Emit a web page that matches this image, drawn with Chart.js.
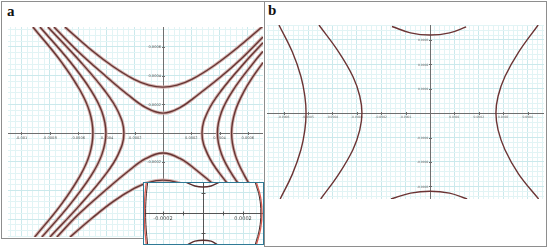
<!DOCTYPE html>
<html>
<head>
<script src="https://cdn.jsdelivr.net/npm/chart.js@4.4.1/dist/chart.umd.min.js"></script>
<style>
body { margin:0; background:#fff; width:550px; height:248px; position:relative; overflow:hidden; }
.panel { position:absolute; border:1px solid #8e8e8e; box-sizing:border-box; }
#pa { left:1px; top:1px; width:264px; height:238px; }
#pb { left:264px; top:1px; width:283px; height:246px; }
.tag { position:absolute; font-family:"Liberation Serif", serif; font-weight:bold; font-size:15px; color:#111; }
.plot { position:absolute; }
#boxA { left:8px; top:27px; }
#boxB { left:267px; top:25px; }
#boxIn { left:143px; top:182px; border:1px solid #2f7a96; background:#fff; }
#boxIn canvas { display:block; }
</style>
</head>
<body>
<div class="panel" id="pa"></div>
<div class="panel" id="pb"></div>
<div class="tag" style="left:7px;top:3px">a</div>
<div class="tag" style="left:268px;top:2px">b</div>
<div class="plot" id="boxA"><canvas id="chartA" width="255" height="210"></canvas></div>
<div class="plot" id="boxB"><canvas id="chartB" width="277" height="174"></canvas></div>
<div class="plot" id="boxIn"><canvas id="chartIn" width="119" height="61"></canvas></div>
<script>
// all curve points are [x, y] in units of 1e-4

// panel a
var aUpperOuter = [[-6.93,7.39],[-5,5.73],[-3.5,4.62],[-2,3.72],[-1,3.34],[0,3.2],[1,3.34],[2,3.72],[3.5,4.62],[5,5.73],[7.07,7.45]];
var aUpperInner = [[-7.7,7.39],[-6,5.69],[-4,3.93],[-2.5,2.69],[-1.2,1.77],[0,1.39],[1.2,1.77],[2.5,2.69],[4,3.85],[5.5,5.15],[7.07,6.7]];
var aLowerInner = [[-7.5,-7.25],[-6,-5.69],[-4,-3.93],[-2.5,-2.69],[-1.2,-1.77],[0,-1.39],[1.2,-1.77],[2.5,-2.69],[4,-3.93],[6,-5.69],[7.07,-6.6]];
var aLowerOuter = [[-6.57,-7.25],[-5,-5.92],[-3.5,-4.76],[-2,-3.84],[-1,-3.43],[0,-3.28],[1,-3.43],[2,-3.84],[3.5,-4.76],[5,-5.92],[6.57,-7.25]];
var aLeft1 = [[-9.19,7.39],[-7.21,5],[-5.87,3],[-5.19,1.5],[-4.95,0],[-5.19,-1.5],[-5.87,-3],[-7.21,-5],[-9.07,-7.25]];
var aLeft2 = [[-8.69,7.39],[-6.59,5],[-5.1,3],[-4.32,1.5],[-4.03,0],[-4.32,-1.5],[-5.1,-3],[-6.59,-5],[-8.56,-7.25]];
var aLeft3 = [[-8.13,7.39],[-5.86,5],[-4.15,3],[-3.17,1.5],[-2.76,0],[-3.17,-1.5],[-4.15,-3],[-5.86,-5],[-7.99,-7.25]];
var aRight1 = [[7.07,6.29],[5.86,5],[4.15,3],[3.17,1.5],[2.76,0],[3.17,-1.5],[4.15,-3],[5.86,-5],[7.07,-6.29]];
var aRight2 = [[7.07,5.69],[6.48,5],[4.96,3],[4.15,1.5],[3.85,0],[4.15,-1.5],[4.96,-3],[6.48,-5],[7.07,-5.69]];
var aRight3 = [[7.07,4.91],[6.41,4],[5.78,3],[5.1,1.5],[4.85,0],[5.1,-1.5],[5.78,-3],[6.41,-4],[7.07,-4.91]];
var aXTicks = [-10,-8,-6,-4,-2,2,4,6];
var aXLabels = ['-0.001','-0.0008','-0.0006','-0.0004','-0.0002','0.0002','0.0004','0.0006'];
var aYTicks = [6,4,2,-2,-4,-6];
var aYLabels = ['0.0006','0.0004','0.0002','-0.0002','-0.0004','-0.0006'];

// inset of panel a
var inLeftRed = [[-2.84,1.5],[-2.91,0.8],[-2.94,0],[-2.91,-0.8],[-2.84,-1.55]];
var inLeftDark = [[-2.77,1.5],[-2.84,0.8],[-2.87,0],[-2.84,-0.8],[-2.77,-1.55]];
var inRightRed = [[2.68,1.5],[2.88,0.8],[2.95,0],[2.88,-0.8],[2.68,-1.55]];
var inRightDark = [[2.62,1.5],[2.82,0.8],[2.89,0],[2.82,-0.8],[2.62,-1.55]];
var inTop = [[-0.82,1.52],[-0.4,1.35],[0,1.3],[0.4,1.35],[0.78,1.52]];
var inBottom = [[-0.75,-1.57],[-0.4,-1.41],[0,-1.36],[0.4,-1.41],[0.7,-1.57]];
var inXTicks = [-2,-1,1,2];
var inXLabels = ['-0.0002','','','0.0002'];
var inYTicks = [1,-1];
var inYLabels = ['',''];

// panel b
var bLeft1 = [[-6.19,3.61],[-5.64,2.5],[-5.29,1.5],[-5.13,0.7],[-5.08,0],[-5.13,-0.7],[-5.29,-1.5],[-5.64,-2.5],[-6.14,-3.52]];
var bLeft2 = [[-4.55,3.61],[-3.74,2.5],[-3.16,1.5],[-2.88,0.7],[-2.79,0],[-2.88,-0.7],[-3.16,-1.5],[-3.74,-2.5],[-4.48,-3.52]];
var bRight = [[4.43,3.61],[3.63,2.5],[3.07,1.5],[2.79,0.7],[2.7,0],[2.79,-0.7],[3.07,-1.5],[3.63,-2.5],[4.45,-3.52]];
var bTop = [[-1.56,3.55],[-0.8,3.29],[0,3.2],[0.8,3.29],[1.48,3.53]];
var bBottom = [[-1.6,-3.52],[-0.8,-3.28],[0,-3.2],[0.8,-3.28],[1.52,-3.52]];
var bXTicks = [-6,-5,-4,-3,-2,-1,1,2,3,4];
var bXLabels = ['-0.0006','-0.0005','-0.0004','-0.0003','-0.0002','-0.0001','0.0001','0.0002','0.0003','0.0004'];
var bYTicks = [3,2,1,-1,-2,-3];
var bYLabels = ['0.0003','0.0002','0.0001','-0.0001','-0.0002','-0.0003'];


function pts(arr) {
  return arr.map(function (p) { return {x: p[0], y: p[1]}; });
}

function curve(arr, color, width) {
  return {data: pts(arr), showLine: true, borderColor: color, borderWidth: width,
          pointRadius: 0, tension: 0.4, fill: false};
}

// axes crossing at the origin, with small ticks and labels
function crossAxes(cfg) {
  return {
    id: 'crossAxes',
    beforeDatasetsDraw: function (chart) {
      var ctx = chart.ctx, a = chart.chartArea;
      var xs = chart.scales.x, ys = chart.scales.y;
      var x0 = Math.round(xs.getPixelForValue(0)) + 0.5;
      var y0 = Math.round(ys.getPixelForValue(0)) + 0.5;
      ctx.save();
      ctx.strokeStyle = cfg.axisColor;
      ctx.lineWidth = 1;
      ctx.beginPath();
      ctx.moveTo(a.left, y0); ctx.lineTo(a.right, y0);
      ctx.moveTo(x0, a.top); ctx.lineTo(x0, a.bottom);
      cfg.xTicks.forEach(function (v) {
        var px = Math.round(xs.getPixelForValue(v)) + 0.5;
        ctx.moveTo(px, y0 - cfg.tick); ctx.lineTo(px, y0 + cfg.tick);
      });
      cfg.yTicks.forEach(function (v) {
        var py = Math.round(ys.getPixelForValue(v)) + 0.5;
        ctx.moveTo(x0 - cfg.tick, py); ctx.lineTo(x0 + cfg.tick, py);
      });
      ctx.stroke();
      ctx.fillStyle = cfg.labelColor;
      ctx.font = cfg.fontSize + 'px "DejaVu Sans"';
      ctx.textAlign = 'center';
      ctx.textBaseline = 'top';
      cfg.xTicks.forEach(function (v, i) {
        ctx.fillText(cfg.xLabels[i], xs.getPixelForValue(v), y0 + cfg.gap);
      });
      ctx.textAlign = 'right';
      ctx.textBaseline = 'middle';
      cfg.yTicks.forEach(function (v, i) {
        ctx.fillText(cfg.yLabels[i], x0 - cfg.gap, ys.getPixelForValue(v) + 0.5);
      });
      ctx.restore();
    }
  };
}

function gridAxis(min, max, step, major) {
  return {
    type: 'linear', min: min, max: max,
    ticks: {display: false},
    border: {display: false},
    grid: {
      drawTicks: false,
      lineWidth: 1,
      color: function (c) {
        var v = c.tick.value / major;
        if (Math.abs(c.tick.value) < 1e-9) return 'rgba(0,0,0,0)';
        return Math.abs(v - Math.round(v)) < 1e-6 ? '#cbe9ec' : '#e2f4f5';
      }
    },
    afterBuildTicks: function (scale) {
      var t = [];
      var n0 = Math.ceil(scale.min / step - 1e-9), n1 = Math.floor(scale.max / step + 1e-9);
      for (var i = n0; i <= n1; i++) t.push({value: i * step});
      scale.ticks = t;
    }
  };
}

function makeChart(id, datasets, xr, yr, step, major, axes) {
  return new Chart(document.getElementById(id), {
    type: 'scatter',
    data: {datasets: datasets},
    options: {
      responsive: false,
      animation: false,
      events: [],
      layout: {padding: 0},
      plugins: {legend: {display: false}, tooltip: {enabled: false}},
      scales: {
        x: gridAxis(xr[0], xr[1], step, major),
        y: gridAxis(yr[0], yr[1], step, major)
      }
    },
    plugins: [crossAxes(axes)]
  });
}

// chart.js paints the first dataset last, so the dark cores go first
var halo = '#d2b0ad', core = '#663533';
var aCurves = [aUpperOuter, aUpperInner, aLowerInner, aLowerOuter, aLeft1, aLeft2, aLeft3, aRight1, aRight2, aRight3];
var aSets = [];
aCurves.forEach(function (c) { aSets.push(curve(c, core, 1.4)); });
aCurves.forEach(function (c) { aSets.push(curve(c, halo, 3.2)); });

makeChart('chartA', aSets, [-10.95, 7.07], [-7.24, 7.39], 0.4, 2, {
  xTicks: aXTicks, xLabels: aXLabels, yTicks: aYTicks, yLabels: aYLabels,
  axisColor: '#6f6f6f', labelColor: '#555', fontSize: 3.6, tick: 1.5, gap: 2.5
});

makeChart('chartB', [bLeft1, bLeft2, bRight, bTop, bBottom].map(function (c) { return curve(c, '#6b3434', 1.4); }),
  [-6.68, 4.67], [-3.52, 3.61], 0.2, 1, {
  xTicks: bXTicks, xLabels: bXLabels, yTicks: bYTicks, yLabels: bYLabels,
  axisColor: '#6f6f6f', labelColor: '#666', fontSize: 3, tick: 1.5, gap: 2
});

makeChart('chartIn', [
    curve(inLeftDark, '#4a2a2a', 1), curve(inLeftRed, '#dd5a4e', 1.3),
    curve(inRightDark, '#4a2a2a', 1), curve(inRightRed, '#dd5a4e', 1.3),
    curve(inTop, '#5a2e2e', 1.4), curve(inBottom, '#5a2e2e', 1.4)
  ], [-2.95, 3.0], [-1.55, 1.5], 1 / 3, 1, {
  xTicks: inXTicks, xLabels: inXLabels, yTicks: inYTicks, yLabels: inYLabels,
  axisColor: '#555', labelColor: '#444', fontSize: 5, tick: 2, gap: 3
});
</script>
</body>
</html>
